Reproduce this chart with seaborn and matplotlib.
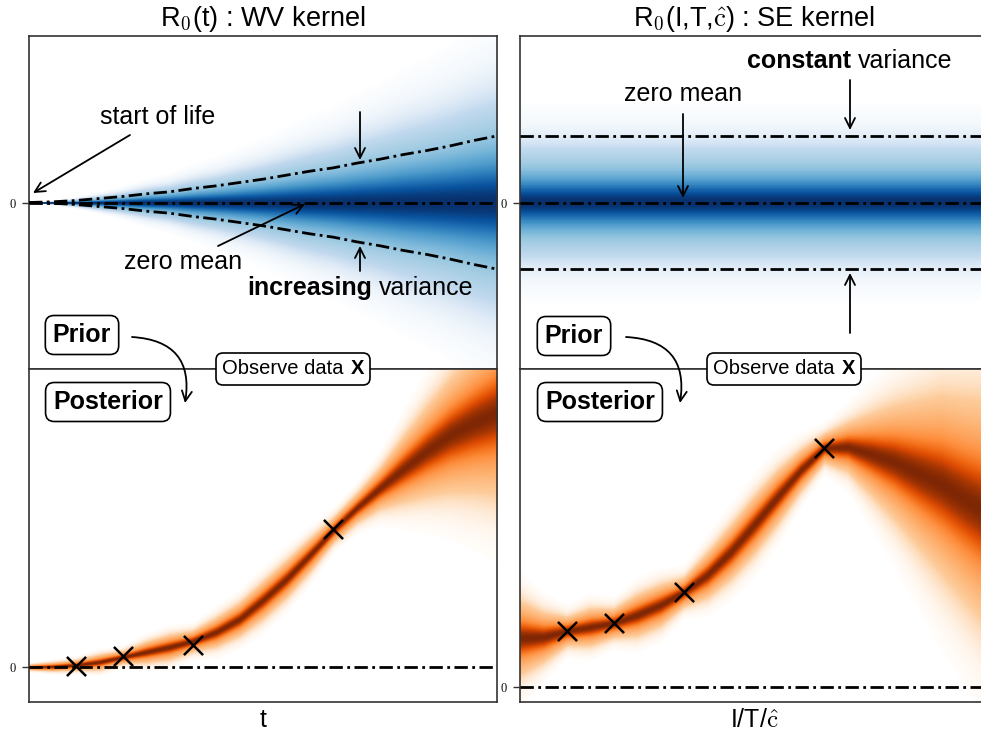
import numpy as np
import matplotlib
matplotlib.use("Agg")
import matplotlib.pyplot as plt
import seaborn as sns
from matplotlib.offsetbox import TextArea, HPacker, AnnotationBbox

sns.set_style("white")
plt.rcParams['font.family'] = ['Liberation Sans', 'DejaVu Sans']
plt.rcParams['mathtext.fontset'] = 'cm'
for k in ["text.color", "axes.labelcolor", "xtick.color", "ytick.color"]:
    plt.rcParams[k] = "black"

# ---------------- data ----------------
t_grid = [0.0, 0.05, 0.1, 0.15, 0.2, 0.25, 0.3, 0.35, 0.4, 0.45, 0.5,
          0.55, 0.6, 0.65, 0.7, 0.75, 0.8, 0.85, 0.9, 0.95, 1.0]

# prior, WV kernel: zero mean, growing std
wv_prior_mean = [0.0] * 21
wv_prior_std = [0.0, 0.01, 0.03, 0.06, 0.09, 0.13, 0.16, 0.21, 0.25, 0.30, 0.35,
                0.41, 0.47, 0.52, 0.59, 0.65, 0.72, 0.78, 0.85, 0.93, 1.0]

# prior, SE kernel: zero mean, constant std
se_prior_mean = [0.0] * 21
se_prior_std = [1.0] * 21

# posterior, WV kernel (mean and spread of the sample bundle)
wv_post_mean = [0.0, 0.005, 0.02, 0.05, 0.10, 0.15, 0.20, 0.26, 0.35, 0.48, 0.67,
                0.88, 1.12, 1.37, 1.59, 1.79, 1.98, 2.16, 2.32, 2.44, 2.54]
wv_post_spread = [0.006, 0.01, 0.012, 0.018, 0.015, 0.025, 0.03, 0.025, 0.035, 0.04, 0.045,
                  0.045, 0.04, 0.03, 0.035, 0.05, 0.08, 0.11, 0.14, 0.17, 0.20]

# posterior, SE kernel
se_post_mean = [0.49, 0.50, 0.56, 0.60, 0.64, 0.72, 0.82, 0.95, 1.12, 1.35, 1.62,
                1.90, 2.17, 2.39, 2.40, 2.33, 2.25, 2.14, 2.03, 1.88, 1.74]
se_post_spread = [0.09, 0.06, 0.035, 0.045, 0.035, 0.05, 0.05, 0.035, 0.055, 0.065, 0.07,
                  0.065, 0.05, 0.035, 0.06, 0.10, 0.14, 0.18, 0.22, 0.25, 0.28]

# observations
obs_t = [0.10, 0.20, 0.35, 0.65]
wv_obs_y = [0.01, 0.11, 0.22, 1.38]
se_obs_y = [0.56, 0.64, 0.95, 2.39]

titles = [r"R$_0$(t) : WV kernel", r"R$_0$(I,T,$\hat{\mathrm{c}}$) : SE kernel"]
xlabels = ["t", r"I/T/$\hat{\mathrm{c}}$"]

# ---------------- figure ----------------
W, H = 981, 734
fig = plt.figure(figsize=(W / 100, H / 100), dpi=100)
fig.patch.set_facecolor("white")


def px_axes(x0, y0, x1, y1):
    return fig.add_axes([x0 / W, 1 - y1 / H, (x1 - x0) / W, (y1 - y0) / H])


ax_tl = px_axes(29, 36, 497, 369)
ax_bl = px_axes(29, 369, 497, 702)
ax_tr = px_axes(520, 36, 988, 369)
ax_br = px_axes(520, 369, 988, 702)

DASH = (0, (4.8, 1.6, 1.0, 1.6))


def band(ax, t, mean, scale, cmap, n=130, fmax=7.5):
    t = np.asarray(t, float); m = np.asarray(mean, float); s = np.asarray(scale, float)
    for f in np.linspace(fmax, 0.01, n):
        d = 0.5 * np.exp(-0.5 * f ** 2) + 0.5 * np.exp(-0.5 * (f / 3.0) ** 2)
        rgb = np.array(cmap(0.08 + 0.92 * d)[:3])
        a = min(1.0, d * 5)
        c = 1 - a * (1 - rgb)
        ax.fill_between(t, m - f * s, m + f * s, color=c, lw=0, zorder=1)


def dashline(ax, t, y):
    sns.lineplot(x=np.asarray(t), y=np.asarray(y), ax=ax, color="black", lw=2.0,
                 linestyle=DASH, estimator=None, zorder=5)


def style(ax, ylim):
    ax.set_xlim(0, 1)
    ax.set_ylim(*ylim)
    ax.set_xticks([])
    ax.set_yticks([0])
    ax.set_yticklabels([r"$0$"], fontsize=9)
    ax.tick_params(axis="y", length=5, width=1.0, color="#333333", left=True, pad=4)
    for sp in ax.spines.values():
        sp.set_color("#333333")
        sp.set_linewidth(1.2)
    ax.set_xlabel("")
    ax.set_ylabel("")


blues = plt.cm.Blues
oranges = plt.cm.Oranges

# top-left prior
band(ax_tl, t_grid, wv_prior_mean, np.array(wv_prior_std) / 2.7, blues)
dashline(ax_tl, t_grid, wv_prior_mean)
dashline(ax_tl, t_grid, np.array(wv_prior_mean) + np.array(wv_prior_std))
dashline(ax_tl, t_grid, np.array(wv_prior_mean) - np.array(wv_prior_std))
style(ax_tl, (-2.5, 2.5))

# top-right prior
band(ax_tr, t_grid, se_prior_mean, np.array(se_prior_std) / 5.0, blues)
dashline(ax_tr, t_grid, se_prior_mean)
dashline(ax_tr, t_grid, np.array(se_prior_mean) + np.array(se_prior_std))
dashline(ax_tr, t_grid, np.array(se_prior_mean) - np.array(se_prior_std))
style(ax_tr, (-2.5, 2.5))

# bottom-left posterior
band(ax_bl, t_grid, wv_post_mean, wv_post_spread, oranges)
dashline(ax_bl, t_grid, [0.0] * len(t_grid))
sns.scatterplot(x=obs_t, y=wv_obs_y, ax=ax_bl, marker="x", s=190, color="black",
                linewidth=1.8, zorder=6)
style(ax_bl, (-0.35, 2.98))

# bottom-right posterior
band(ax_br, t_grid, se_post_mean, se_post_spread, oranges)
dashline(ax_br, t_grid, [0.0] * len(t_grid))
sns.scatterplot(x=obs_t, y=se_obs_y, ax=ax_br, marker="x", s=190, color="black",
                linewidth=1.8, zorder=6)
style(ax_br, (-0.15, 3.18))

for ax, ttl in zip([ax_tl, ax_tr], titles):
    ax.set_title(ttl, fontsize=19.5, pad=7)
for ax, xl in zip([ax_bl, ax_br], xlabels):
    ax.set_xlabel(xl, fontsize=18, labelpad=4)

# ---------------- annotation overlay (image pixel coords) ----------------
ov = fig.add_axes([0, 0, 1, 1], zorder=10)
ov.set_xlim(0, W)
ov.set_ylim(H, 0)
ov.axis("off")
ov.patch.set_alpha(0)

AP = dict(arrowstyle="->", color="black", lw=1.3, shrinkA=0, shrinkB=0,
          mutation_scale=18)


def arrow(p0, p1, conn="arc3,rad=0"):
    ov.annotate("", xy=p1, xytext=p0, xycoords="data", textcoords="data",
                arrowprops=dict(AP, connectionstyle=conn))


def mixed(parts, xy, fontsize, box=False):
    areas = [TextArea(s, textprops=dict(fontsize=fontsize, fontweight=w,
                                        family="Liberation Sans", color="black"))
             for s, w in parts]
    pack = HPacker(children=areas, align="baseline", pad=0, sep=5)
    ab = AnnotationBbox(pack, xy, xycoords="data", frameon=box,
                        box_alignment=(0.5, 0.5), pad=0.0,
                        bboxprops=dict(boxstyle="round,pad=0.45,rounding_size=0.5",
                                       fc="white", ec="black", lw=1.2))
    ab.set_zorder(12)
    ov.add_artist(ab)


def label_box(txt, xy, fs=18):
    ov.text(xy[0], xy[1], txt, fontsize=fs, fontweight="bold", ha="center",
            va="center", zorder=12,
            bbox=dict(boxstyle="round,pad=0.3,rounding_size=0.35", fc="white",
                      ec="black", lw=1.2))


# left column
ov.text(158, 117, "start of life", fontsize=18, ha="center", va="center")
arrow((130, 135), (33, 193))
arrow((360, 112), (360, 160))
ov.text(183, 262, "zero mean", fontsize=18, ha="center", va="center")
arrow((218, 246), (305, 204))
arrow((360, 271), (360, 246))
mixed([("increasing", "bold"), ("variance", "normal")], (360, 288), 18)

label_box("Prior", (82, 335))
label_box("Posterior", (108, 402))
arrow((132, 337), (185, 403), "arc3,rad=-0.55")
mixed([("Observe data", "normal"), ("X", "bold")], (293, 369), 14.5, box=True)

# right column
mixed([("constant", "bold"), ("variance", "normal")], (850, 61), 18)
arrow((850, 80), (850, 130))
ov.text(683, 94, "zero mean", fontsize=18, ha="center", va="center")
arrow((683, 114), (683, 198))
arrow((850, 333), (850, 273))

label_box("Prior", (574, 336))
label_box("Posterior", (600, 402))
arrow((626, 337), (680, 403), "arc3,rad=-0.55")
mixed([("Observe data", "normal"), ("X", "bold")], (784, 369), 14.5, box=True)

fig.savefig("out.png", dpi=100, facecolor="white")
